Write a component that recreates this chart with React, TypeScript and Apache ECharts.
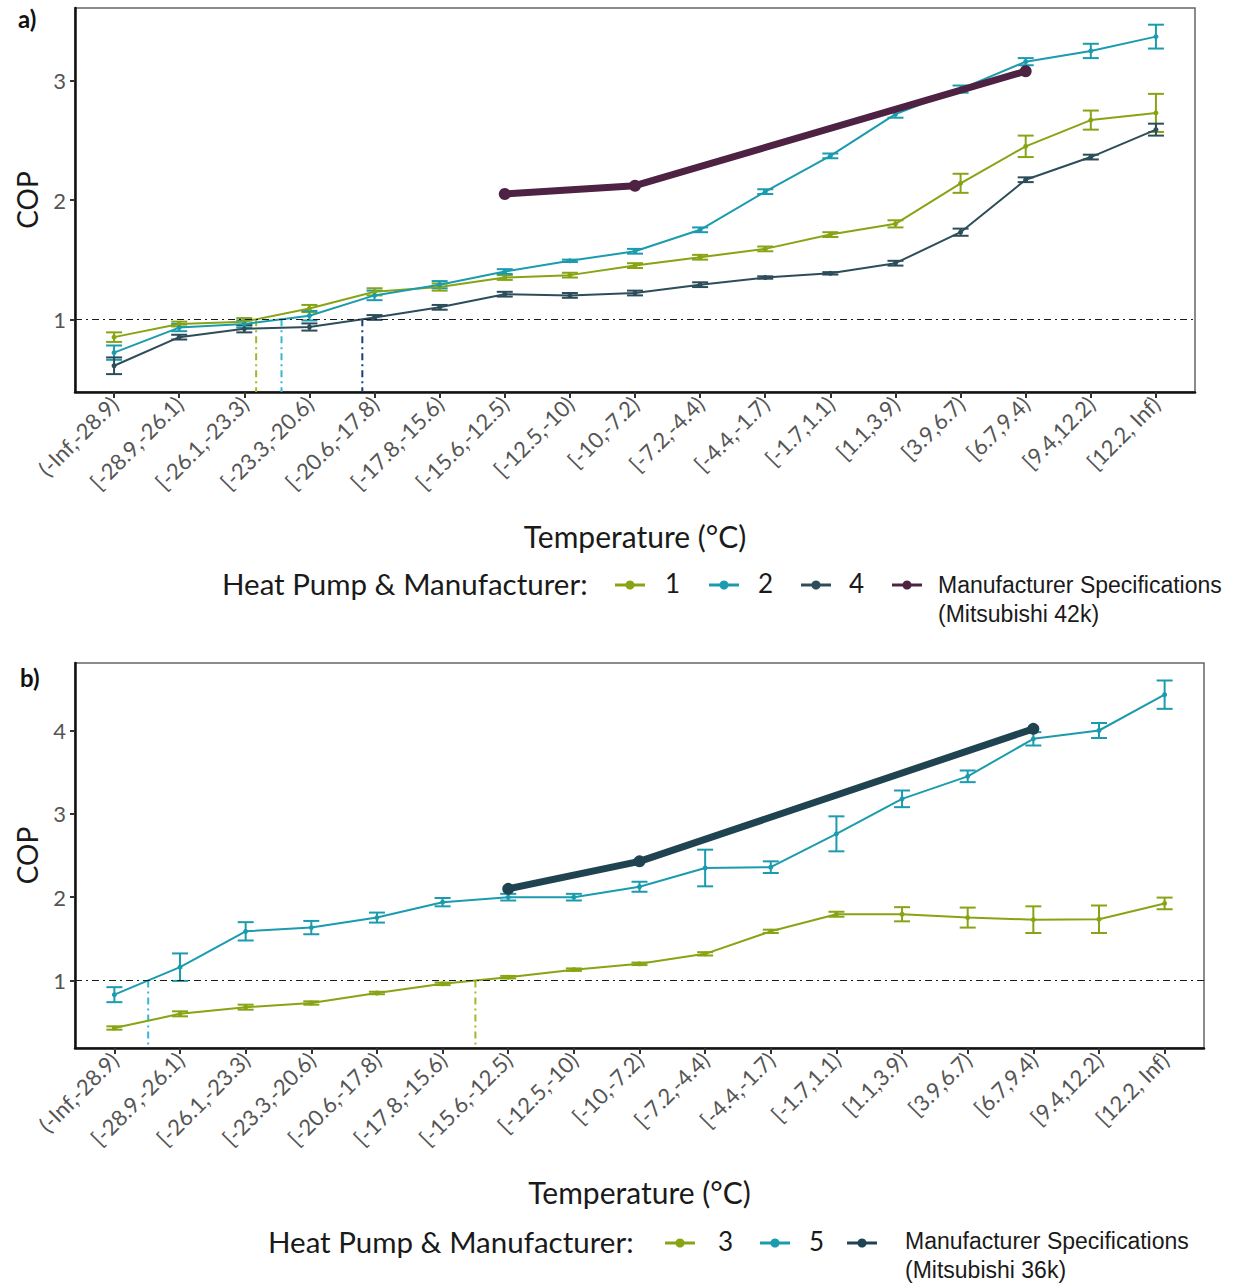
import React, { useEffect, useRef } from "react";
import * as echarts from "echarts";

// Outdoor temperature bins (°C)
const categories = [
  "(-Inf,-28.9)", "[-28.9,-26.1)", "[-26.1,-23.3)", "[-23.3,-20.6)", "[-20.6,-17.8)",
  "[-17.8,-15.6)", "[-15.6,-12.5)", "[-12.5,-10)", "[-10,-7.2)", "[-7.2,-4.4)",
  "[-4.4,-1.7)", "[-1.7,1.1)", "[1.1,3.9)", "[3.9,6.7)", "[6.7,9.4)", "[9.4,12.2)", "[12.2, Inf)",
];

// Panel a) – measured COP and error half-widths
const hp1 = [0.85, 0.96, 0.98, 1.09, 1.23, 1.27, 1.35, 1.37, 1.45, 1.52, 1.59, 1.71, 1.8, 2.14, 2.45, 2.67, 2.73];
const hp1Err = [0.04, 0.02, 0.03, 0.03, 0.03, 0.03, 0.02, 0.02, 0.02, 0.02, 0.02, 0.02, 0.03, 0.08, 0.09, 0.08, 0.16];
const hp2 = [0.72, 0.93, 0.96, 1.03, 1.2, 1.29, 1.4, 1.49, 1.57, 1.75, 2.07, 2.37, 2.72, 2.93, 3.16, 3.25, 3.37];
const hp2Err = [0.06, 0.03, 0.03, 0.04, 0.04, 0.03, 0.02, 0.01, 0.02, 0.02, 0.02, 0.02, 0.03, 0.03, 0.03, 0.06, 0.1];
const hp4 = [0.61, 0.85, 0.92, 0.935, 1.015, 1.1, 1.21, 1.2, 1.22, 1.29, 1.35, 1.385, 1.47, 1.73, 2.17, 2.36, 2.59];
const hp4Err = [0.07, 0.02, 0.03, 0.03, 0.02, 0.02, 0.02, 0.02, 0.02, 0.02, 0.01, 0.01, 0.02, 0.03, 0.02, 0.02, 0.05];
const mfr42k = [null, null, null, null, null, null, 2.05, null, 2.12, null, null, null, null, null, 3.08, null, null];

// Panel b) – measured COP and error half-widths
const hp3 = [0.43, 0.6, 0.68, 0.73, 0.85, 0.96, 1.04, 1.13, 1.2, 1.32, 1.59, 1.795, 1.795, 1.755, 1.73, 1.735, 1.925];
const hp3Err = [0.02, 0.03, 0.03, 0.02, 0.015, 0.015, 0.015, 0.015, 0.015, 0.02, 0.02, 0.03, 0.085, 0.12, 0.16, 0.165, 0.07];
const hp5 = [0.83, 1.16, 1.59, 1.635, 1.755, 1.94, 2.0, 2.0, 2.125, 2.35, 2.36, 2.76, 3.18, 3.45, 3.9, 4.0, 4.43];
const hp5Err = [0.09, 0.165, 0.11, 0.08, 0.06, 0.05, 0.04, 0.04, 0.06, 0.22, 0.07, 0.21, 0.1, 0.07, 0.08, 0.09, 0.17];
const mfr36k = [null, null, null, null, null, null, 2.1, null, 2.43, null, null, null, null, null, 4.02, null, null];

const yTicksA = [1, 2, 3];
const yTicksB = [1, 2, 3, 4];

const GREEN = "#87a414";
const CYAN = "#1b9bae";
const SLATE = "#2c4d59";
const PLUM = "#4e2243";
const NAVY_SPEC = "#1f4351";
const V_GREEN = "#9dbb26";
const V_CYAN = "#35b7d8";
const V_NAVY = "#1f3b78";

const FONT = "Lato, 'Open Sans', sans-serif";
const DASHDOT = [7, 4, 2, 4];

// First temperature bin index (fractional) at which a series reaches COP = 1
function crossing(vals: number[]): number {
  for (let i = 0; i < vals.length - 1; i++) {
    if (vals[i] < 1 && vals[i + 1] >= 1) {
      return i + (1 - vals[i]) / (vals[i + 1] - vals[i]);
    }
  }
  return NaN;
}

function lineSeries(name: string, vals: number[], color: string, idx: number) {
  return {
    type: "line",
    name,
    xAxisIndex: idx,
    yAxisIndex: idx,
    data: vals.map((v, i) => [i, v]),
    symbol: "circle",
    symbolSize: 5,
    lineStyle: { color, width: 2 },
    itemStyle: { color },
    z: 3,
  };
}

function errSeries(vals: number[], err: number[], color: string, idx: number) {
  return {
    type: "custom",
    xAxisIndex: idx,
    yAxisIndex: idx,
    data: vals.map((v, i) => [i, v - err[i], v + err[i]]),
    encode: { x: 0, y: [1, 2] },
    z: 3,
    renderItem: (_p: any, api: any) => {
      const x = api.value(0);
      const lo = api.coord([x, api.value(1)]);
      const hi = api.coord([x, api.value(2)]);
      const w = 8;
      const style = { stroke: color, lineWidth: 2 };
      return {
        type: "group",
        children: [
          { type: "line", shape: { x1: lo[0], y1: lo[1], x2: hi[0], y2: hi[1] }, style },
          { type: "line", shape: { x1: lo[0] - w, y1: lo[1], x2: lo[0] + w, y2: lo[1] }, style },
          { type: "line", shape: { x1: hi[0] - w, y1: hi[1], x2: hi[0] + w, y2: hi[1] }, style },
        ],
      };
    },
  };
}

function specSeries(name: string, vals: (number | null)[], color: string, idx: number) {
  return {
    type: "line",
    name,
    xAxisIndex: idx,
    yAxisIndex: idx,
    data: vals.map((v, i) => (v == null ? null : [i, v])).filter((d) => d !== null),
    symbol: "circle",
    symbolSize: 12,
    lineStyle: { color, width: 7, cap: "round", join: "round" },
    itemStyle: { color },
    z: 4,
  };
}

function breakEvenSeries(vals: number[], color: string, idx: number, yMin: number) {
  const x = crossing(vals);
  return {
    type: "line",
    xAxisIndex: idx,
    yAxisIndex: idx,
    data: [[x, 1], [x, yMin]],
    symbol: "none",
    lineStyle: { color, width: 2, type: DASHDOT },
    z: 2,
  };
}

function refLineSeries(idx: number) {
  return {
    type: "line",
    xAxisIndex: idx,
    yAxisIndex: idx,
    data: [],
    markLine: {
      silent: true,
      symbol: "none",
      label: { show: false },
      lineStyle: { color: "#1a1a1a", width: 1.2, type: DASHDOT },
      data: [{ yAxis: 1 }],
    },
  };
}

const tickIdx = categories.map((_, i) => i);

function xAxis(idx: number) {
  return {
    type: "value",
    gridIndex: idx,
    min: -0.6,
    max: categories.length - 1 + 0.6,
    name: "Temperature (°C)",
    nameLocation: "middle",
    nameGap: 129,
    nameTextStyle: { fontFamily: FONT, fontSize: 30, color: "#1a1a1a" },
    axisLine: { show: true, onZero: false, lineStyle: { color: "#111", width: 2.5 } },
    axisTick: { show: true, customValues: tickIdx, length: 6, lineStyle: { color: "#333", width: 2 } },
    axisLabel: {
      customValues: tickIdx,
      formatter: (v: number) => categories[Math.round(v)],
      rotate: 45,
      fontFamily: FONT,
      fontSize: 22,
      color: "#555",
      margin: 8,
    },
    splitLine: { show: false },
  };
}

function yAxis(idx: number, min: number, max: number, ticks: number[]) {
  return {
    type: "value",
    gridIndex: idx,
    min,
    max,
    name: "COP",
    nameLocation: "middle",
    nameGap: 34,
    nameTextStyle: { fontFamily: FONT, fontSize: 28, color: "#1a1a1a" },
    axisLine: { show: true, onZero: false, lineStyle: { color: "#111", width: 2.5 } },
    axisTick: { show: true, customValues: ticks, length: 5, lineStyle: { color: "#333", width: 2 } },
    axisLabel: { customValues: ticks, fontFamily: FONT, fontSize: 22, color: "#555", margin: 9 },
    splitLine: { show: false },
  };
}

type LegendItem = { color: string; label: string; cx: number; tx: number };

function legendGraphics(y: number, titleX: number, items: LegendItem[], note: string, noteTop: number) {
  const els: any[] = [
    {
      type: "text",
      left: titleX,
      top: y - 17,
      style: { text: "Heat Pump & Manufacturer:", font: `29.5px ${FONT}`, fill: "#1a1a1a" },
    },
  ];
  items.forEach((it, k) => {
    els.push({ type: "line", shape: { x1: it.cx - 15, y1: y, x2: it.cx + 15, y2: y }, style: { stroke: it.color, lineWidth: 3 } });
    els.push({ type: "circle", shape: { cx: it.cx, cy: y, r: 4.5 }, style: { fill: it.color } });
    const last = k === items.length - 1;
    els.push({
      type: "text",
      left: it.tx,
      top: last ? noteTop : y - 15,
      style: last
        ? { text: it.label + "\n" + note, font: `23px 'Liberation Sans', Arial, sans-serif`, fill: "#1a1a1a", lineHeight: 29 }
        : { text: it.label, font: `26px ${FONT}`, fill: "#1a1a1a" },
    });
  });
  return els;
}

export default function App() {
  const ref = useRef<HTMLDivElement>(null);

  useEffect(() => {
    document.body.style.margin = "0";
    if (!ref.current) return;
    const chart = echarts.init(ref.current, undefined, { renderer: "svg" });

    const minA = 0.39, maxA = 3.61;
    const minB = 0.19, maxB = 4.81;

    chart.setOption({
      animation: false,
      backgroundColor: "#ffffff",
      grid: [
        { left: 75, top: 8, width: 1120, height: 384, show: true, borderColor: "#666", borderWidth: 1.5, containLabel: false, outerBoundsMode: "none" },
        { left: 75, top: 663, width: 1129, height: 385, show: true, borderColor: "#666", borderWidth: 1.5, containLabel: false, outerBoundsMode: "none" },
      ],
      xAxis: [xAxis(0), xAxis(1)],
      yAxis: [yAxis(0, minA, maxA, yTicksA), yAxis(1, minB, maxB, yTicksB)],
      series: [
        refLineSeries(0),
        breakEvenSeries(hp1, V_GREEN, 0, minA),
        breakEvenSeries(hp2, V_CYAN, 0, minA),
        breakEvenSeries(hp4, V_NAVY, 0, minA),
        errSeries(hp1, hp1Err, GREEN, 0),
        errSeries(hp2, hp2Err, CYAN, 0),
        errSeries(hp4, hp4Err, SLATE, 0),
        lineSeries("1", hp1, GREEN, 0),
        lineSeries("2", hp2, CYAN, 0),
        lineSeries("4", hp4, SLATE, 0),
        specSeries("Manufacturer Specifications (Mitsubishi 42k)", mfr42k, PLUM, 0),

        refLineSeries(1),
        breakEvenSeries(hp5, V_CYAN, 1, minB),
        breakEvenSeries(hp3, V_GREEN, 1, minB),
        errSeries(hp3, hp3Err, GREEN, 1),
        errSeries(hp5, hp5Err, CYAN, 1),
        lineSeries("3", hp3, GREEN, 1),
        lineSeries("5", hp5, CYAN, 1),
        specSeries("Manufacturer Specifications (Mitsubishi 36k)", mfr36k, NAVY_SPEC, 1),
      ],
      graphic: [
        { type: "text", left: 18, top: 6, style: { text: "a)", font: `bold 24px ${FONT}`, fill: "#111" } },
        { type: "text", left: 20, top: 665, style: { text: "b)", font: `bold 24px ${FONT}`, fill: "#111" } },
        ...legendGraphics(585, 222, [
          { color: GREEN, label: "1", cx: 630, tx: 665 },
          { color: CYAN, label: "2", cx: 724, tx: 758 },
          { color: SLATE, label: "4", cx: 816, tx: 849 },
          { color: PLUM, label: "Manufacturer Specifications", cx: 907, tx: 938 },
        ], "(Mitsubishi 42k)", 570),
        ...legendGraphics(1243, 268, [
          { color: GREEN, label: "3", cx: 680, tx: 718 },
          { color: CYAN, label: "5", cx: 775, tx: 809 },
          { color: NAVY_SPEC, label: "Manufacturer Specifications", cx: 862, tx: 905 },
        ], "(Mitsubishi 36k)", 1226),
      ],
    });

    return () => chart.dispose();
  }, []);

  return <div ref={ref} style={{ width: 1240, height: 1285 }} />;
}
